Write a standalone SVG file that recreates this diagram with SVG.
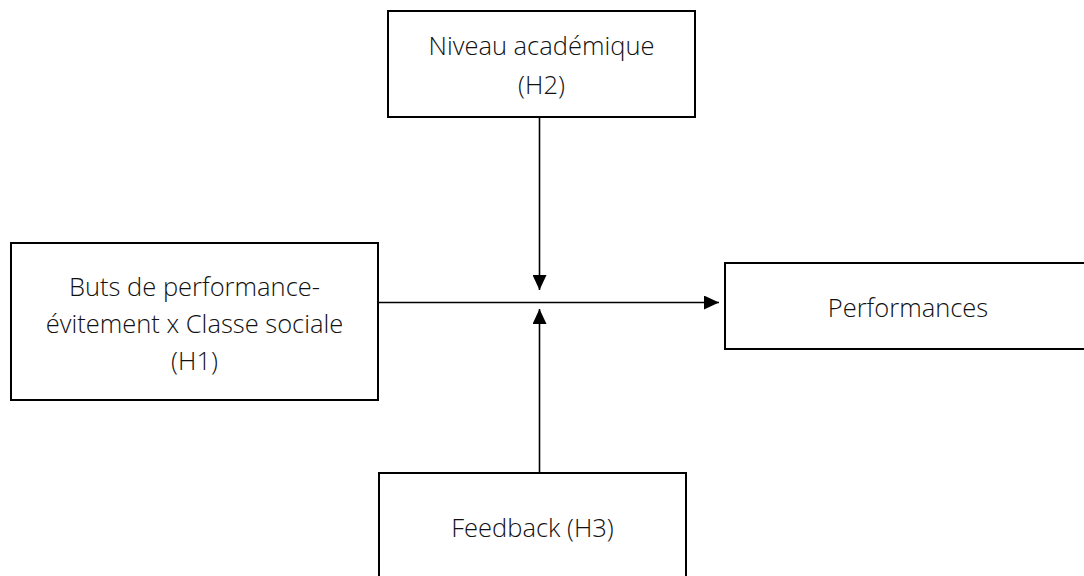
<svg xmlns="http://www.w3.org/2000/svg" width="1084" height="576" viewBox="0 0 1084 576">
<style>
.box{fill:#fff;stroke:#000;stroke-width:2}
.lbl{font-family:"Open Sans","Liberation Sans",sans-serif;font-weight:300;font-size:25.5px;fill:#111;text-anchor:middle}
.conn{stroke:#000;stroke-width:1.6;fill:none}
</style>
<defs>
<marker id="ah" markerUnits="userSpaceOnUse" markerWidth="16" markerHeight="14" refX="15" refY="7" orient="auto">
<path d="M0,0 L15,7 L0,14 Z" fill="#000"/>
</marker>
</defs>
<rect width="1084" height="576" fill="#fff"/>
<g id="n-niveau">
<rect class="box" x="388" y="11" width="307" height="106"/>
<text class="lbl" x="541.5" y="55">Niveau académique</text>
<text class="lbl" x="541.5" y="94">(H2)</text>
</g>
<g id="n-buts">
<rect class="box" x="11" y="243" width="367" height="157"/>
<text class="lbl" x="194.5" y="296">Buts de performance-</text>
<text class="lbl" x="194.5" y="333">évitement x Classe sociale</text>
<text class="lbl" x="194.5" y="370">(H1)</text>
</g>
<g id="n-perf">
<rect class="box" x="725" y="263" width="370" height="86"/>
<text class="lbl" x="908" y="317">Performances</text>
</g>
<g id="n-feedback">
<rect class="box" x="379" y="473" width="307" height="120"/>
<text class="lbl" x="532.5" y="537">Feedback (H3)</text>
</g>
<g id="connectors">
<line class="conn" x1="379" y1="302.5" x2="719" y2="302.5" marker-end="url(#ah)"/>
<line class="conn" x1="539.5" y1="117" x2="539.5" y2="290" marker-end="url(#ah)"/>
<line class="conn" x1="539.5" y1="473" x2="539.5" y2="309" marker-end="url(#ah)"/>
</g>
</svg>
